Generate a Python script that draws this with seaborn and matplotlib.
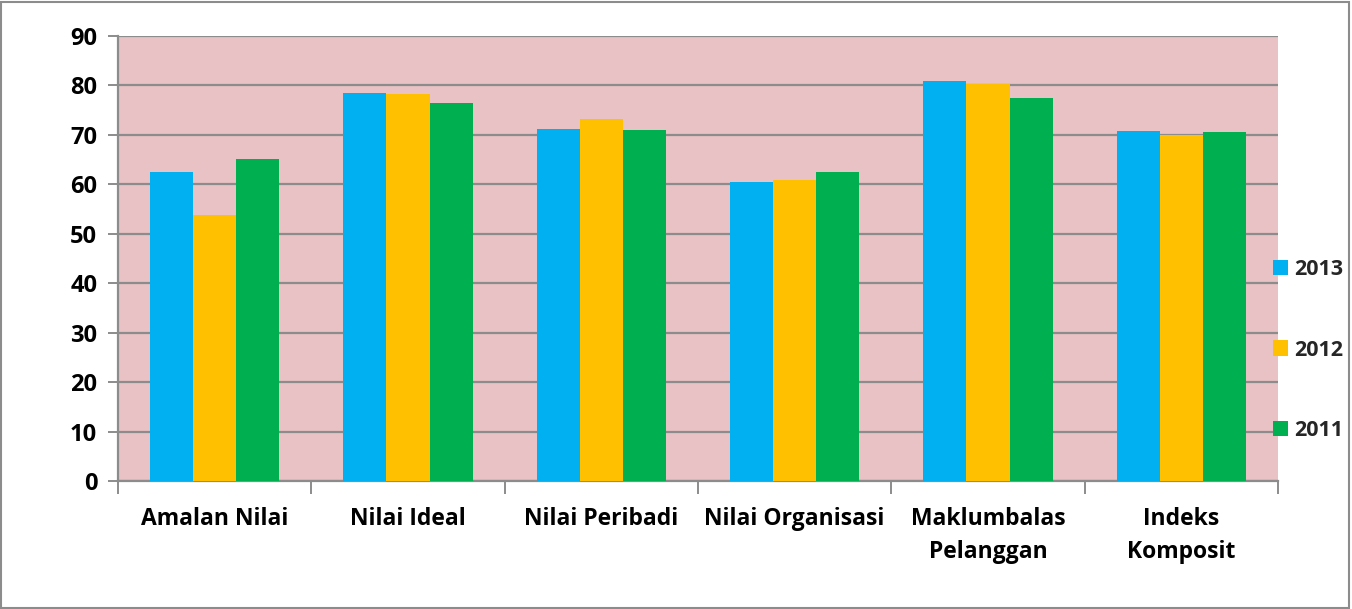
import matplotlib
matplotlib.use("Agg")
import matplotlib.pyplot as plt
import numpy as np
import pandas as pd
import seaborn as sns
from matplotlib.patches import Rectangle

# data
categories = ["Amalan Nilai", "Nilai Ideal", "Nilai Peribadi", "Nilai Organisasi",
              "Maklumbalas\nPelanggan", "Indeks\nKomposit"]
years = ["2013", "2012", "2011"]
v2013 = [62.4, 78.5, 71.1, 60.5, 80.9, 70.7]
v2012 = [53.7, 78.3, 73.2, 60.9, 80.2, 70.0]
v2011 = [65.2, 76.5, 70.9, 62.5, 77.5, 70.5]
colors = ["#00b0f0", "#ffc000", "#00b050"]

df = pd.DataFrame({
    "cat": categories * 3,
    "year": [y for y in years for _ in categories],
    "val": v2013 + v2012 + v2011,
})

sns.set_style("white")
plt.rcParams["font.family"] = ["Open Sans", "DejaVu Sans"]
plt.rcParams["font.weight"] = "bold"

fig = plt.figure(figsize=(13.52, 6.09), dpi=100)
ax = fig.add_axes([118 / 1352, 1 - 481 / 609, 1160 / 1352, 445 / 609])
ax.set_facecolor("#e9c2c5")

sns.barplot(data=df, x="cat", y="val", hue="year", hue_order=years,
            order=categories, palette=colors, width=0.67, saturation=1,
            linewidth=0, ax=ax, zorder=3)

ax.set_ylim(0, 90)
ax.set_xlim(-0.5, 5.5)
ax.set_yticks(np.arange(0, 91, 10))
ax.yaxis.grid(True, color="#8c8c8c", linewidth=1.6, zorder=1)
ax.set_axisbelow(True)
ax.set_xlabel("")
ax.set_ylabel("")

for s in ["top", "right"]:
    ax.spines[s].set_visible(False)
for s in ["left", "bottom"]:
    ax.spines[s].set_color("#8c8c8c")
    ax.spines[s].set_linewidth(1.6)

ax.tick_params(axis="y", length=7, width=1.4, color="#8c8c8c", pad=8,
               labelsize=17, left=True)
ax.tick_params(axis="x", which="major", length=0, pad=19, labelsize=16.5)
ax.set_xticks(np.arange(-0.5, 6.0, 1.0), minor=True)
ax.tick_params(axis="x", which="minor", length=9, width=1.4, color="#8c8c8c",
               bottom=True)
for t in ax.get_xticklabels() + ax.get_yticklabels():
    t.set_fontweight("bold")
    t.set_color("black")
for t in ax.get_xticklabels():
    t.set_linespacing(1.5)

leg = ax.legend(loc="center left", bbox_to_anchor=(1262 / 1352, 1 - 350 / 609),
                bbox_transform=fig.transFigure, frameon=False, fontsize=15.5,
                handlelength=0.7, handleheight=0.7, handletextpad=0.3,
                labelspacing=2.77, borderpad=0)
for t in leg.get_texts():
    t.set_fontweight("bold")

fig.patches.append(Rectangle((0.001, 0.002), 0.997, 0.995, transform=fig.transFigure,
                             fill=False, edgecolor="#8c8c8c", linewidth=1.5))

fig.savefig("out.png", dpi=100)
